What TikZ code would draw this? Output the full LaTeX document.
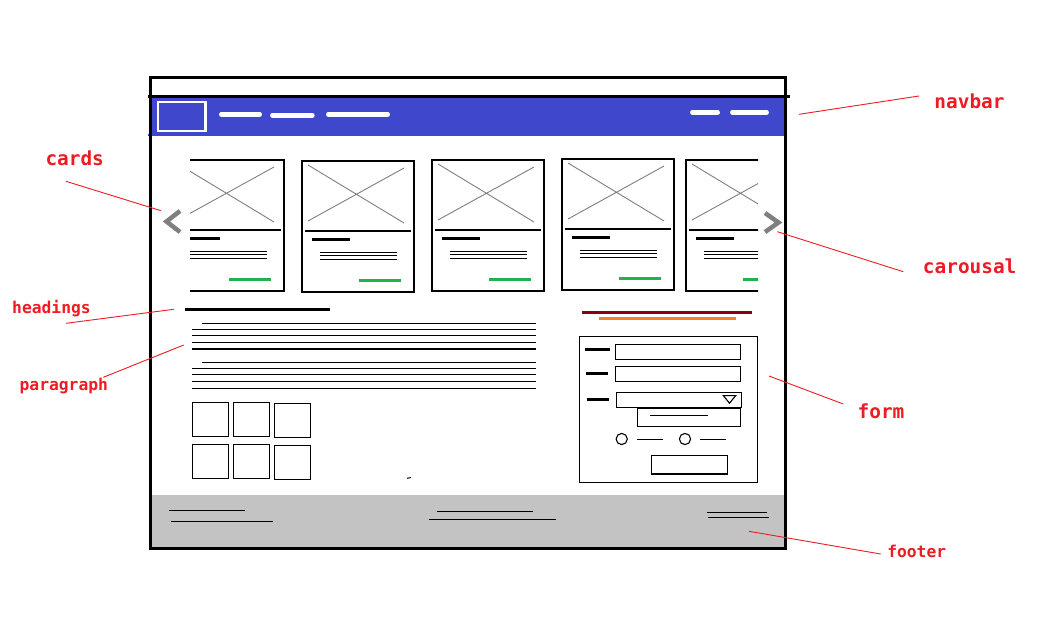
\documentclass[tikz,border=0pt]{standalone}
\usepackage{fontspec}
\newfontfamily\notefont{DejaVu Sans Mono}
\definecolor{navblue}{HTML}{3F48CC}
\definecolor{footgray}{HTML}{C3C3C3}
\definecolor{xgray}{HTML}{7F7F7F}
\definecolor{okgreen}{HTML}{22B14C}
\definecolor{notered}{HTML}{ED1C24}
\definecolor{wine}{HTML}{880015}
\definecolor{tangerine}{HTML}{FF7F27}
\tikzset{
  boxline/.style={line width=1.3pt},
  textline/.style={line width=1.2pt},
  barline/.style={line width=3pt},
  navlink/.style={white,line width=4.5pt,line cap=round},
  chevron/.style={xgray,line width=4.5pt},
  leader/.style={notered,line width=0.9pt},
  note/.style={font=\notefont\bfseries\fontsize{19.4}{22}\selectfont,text=notered,inner sep=0pt,anchor=base},
  smallnote/.style={note,font=\notefont\bfseries\fontsize{16.3}{19}\selectfont},
  card/.pic={
    \draw[boxline] (0,0) rectangle (112,131);
    \draw[xgray,line width=0.9pt] (6,4) -- (102,62) (6,60) -- (102,7);
    \draw[boxline] (3,70) -- (109,70);
    \draw[barline] (10,78) -- (48,78);
    \draw[textline] (18,91.3) -- (95,91.3) (18,94.6) -- (95,94.6) (18,98.4) -- (95,98.4);
    \draw[okgreen,line width=3.3pt] (57,119.3) -- (99,119.3);
  }
}
\begin{document}
\begin{tikzpicture}[x=1pt,y=-1pt]
\useasboundingbox (0,0) rectangle (1044,625);
\fill[white] (0,0) rectangle (1044,625);

% navbar and footer bands
\fill[navblue] (151,97.5) rectangle (784,135.6);
\draw[navblue,line width=2pt] (148,134.5) -- (152,134.5);
\fill[footgray] (149,495) rectangle (784,547);

% browser frame
\draw[line width=3pt] (150,77) rectangle (785,548);
\draw[line width=3pt] (148,96) -- (790,96);

% logo and menu links
\draw[white,line width=2.2pt] (158,102) rectangle (205.5,131.3);
\draw[navlink] (221.3,114.3) -- (259.7,114.3);
\draw[navlink] (272.3,115.3) -- (312.4,115.3);
\draw[navlink] (328.3,114.3) -- (387.7,114.3);
\draw[navlink] (692.3,112.3) -- (717.7,112.3);
\draw[navlink] (732.3,112.3) -- (766.7,112.3);

% carousel of cards
\begin{scope}
  \clip (190,150) rectangle (758,300);
  \pic at (172,160) {card};
  \pic at (302,161) {card};
  \pic at (432,160) {card};
  \pic at (562,159) {card};
  \pic at (686,160) {card};
\end{scope}
\draw[chevron] (180,211) -- (166.5,221.5) -- (180,232);
\draw[chevron] (765,213) -- (778.5,222.5) -- (765,232);

% heading and paragraph blocks
\draw[barline] (185,309.3) -- (330,309.3);
\draw[textline] (202,323.3) -- (536,323.3);
\foreach \yy in {329.3,335.3,342.3,349} \draw[textline] (192,\yy) -- (536,\yy);
\draw[textline] (202,362.3) -- (536,362.3);
\foreach \yy in {368.3,374.3,381.3,388.3} \draw[textline] (192,\yy) -- (536,\yy);

% image thumbnails
\draw[boxline] (192.3,402.3) rectangle (228.7,436.3);
\draw[boxline] (233.3,402.3) rectangle (269.3,436.3);
\draw[boxline] (274.3,403.3) rectangle (310.3,437.3);
\draw[boxline] (192.3,444.3) rectangle (228.7,478.3);
\draw[boxline] (233.3,444.3) rectangle (269.3,478.3);
\draw[boxline] (274.3,445.3) rectangle (310.3,479.3);
\draw[line width=1pt] (407,478.3) -- (411,477.5);

% form with its title bars
\draw[wine,barline] (582,312.3) -- (752,312.3);
\draw[tangerine,barline] (599,318.3) -- (736,318.3);
\draw[boxline] (579.3,336.3) rectangle (757.3,482.3);
\draw[barline] (585,349.3) -- (610,349.3);
\draw[boxline] (615.3,344.3) rectangle (740.7,359.3);
\draw[barline] (586,373) -- (608,373);
\draw[boxline] (615.3,366.3) rectangle (740.7,381.3);
\draw[barline] (587,399) -- (609,399);
\draw[boxline] (616.3,392.3) rectangle (741.7,407.3);
\draw[line width=1.1pt] (723.3,395.6) -- (735.7,395.6) -- (729.5,403.2) -- cycle;
\draw[boxline] (637.3,408) rectangle (740.7,426.3);
\draw[line width=1pt] (650,415.3) -- (707.7,415.3);
\draw[line width=1.1pt] (621.7,439) circle (5.6);
\draw[line width=1.1pt] (637,439.3) -- (662.7,439.3);
\draw[line width=1.1pt] (685,439) circle (5.6);
\draw[line width=1.1pt] (700,439.3) -- (725.7,439.3);
\draw[boxline] (651.3,455.3) rectangle (727.3,474);

% footer links
\draw[line width=1pt] (169,510.3) -- (245,510.3);
\draw[line width=1pt] (171,521.3) -- (273,521.3);
\draw[line width=1pt] (437,511.3) -- (533,511.3);
\draw[line width=1pt] (429,519.3) -- (556,519.3);
\draw[line width=1pt] (707,512.3) -- (767,512.3);
\draw[line width=1pt] (708,517.3) -- (769,517.3);

% annotations
\node[note] (lcards) at (74.7,165) {cards};
\node[smallnote] (lheadings) at (51.5,313.3) {headings};
\node[smallnote] (lparagraph) at (63.8,390.7) {paragraph};
\node[note] (lnavbar) at (969.5,108.3) {navbar};
\node[note] (lcarousal) at (969.7,273.3) {carousal};
\node[note] (lform) at (881,418.3) {form};
\node[smallnote] (lfooter) at (916.7,557.3) {footer};

\coordinate (cardsA) at (66,181.3);     \coordinate (cardsB) at (161,210.7);
\coordinate (headA) at (66,323.3);      \coordinate (headB) at (173.7,309.3);
\coordinate (paraA) at (103.3,377.3);   \coordinate (paraB) at (183.7,345);
\coordinate (navA) at (919,96);         \coordinate (navB) at (799,114.3);
\coordinate (carA) at (903.3,271.7);    \coordinate (carB) at (777.3,231.7);
\coordinate (formA) at (843.3,404);     \coordinate (formB) at (769,376);
\coordinate (footA) at (880.7,554);     \coordinate (footB) at (749,531.3);

\draw[leader] (cardsA) -- (cardsB);
\draw[leader] (headA) -- (headB);
\draw[leader] (paraA) -- (paraB);
\draw[leader] (navA) -- (navB);
\draw[leader] (carA) -- (carB);
\draw[leader] (formA) -- (formB);
\draw[leader] (footA) -- (footB);
\end{tikzpicture}
\end{document}
